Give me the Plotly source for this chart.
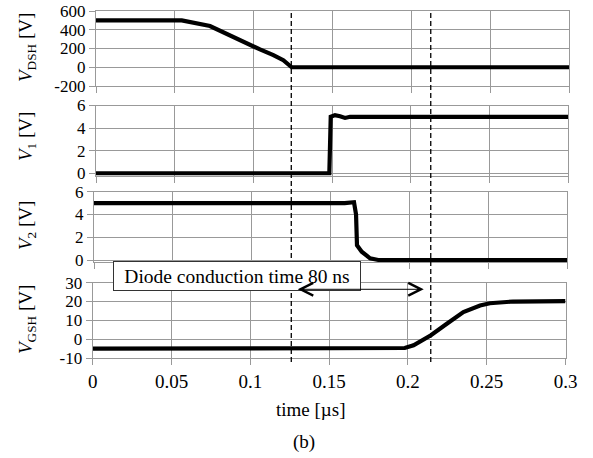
import plotly.graph_objects as go

# ---------------- data ----------------
t_vdsh = [0, 0.0544, 0.0723, 0.0786, 0.0871, 0.0956, 0.104, 0.1125, 0.1188, 0.1241, 0.3]
v_dsh = [500, 500, 440, 390, 318, 262, 190, 129, 75, 0, 0]

t_v1 = [0, 0.1483, 0.1492, 0.1519, 0.1551, 0.1583, 0.1615, 0.3]
v_1 = [0, 0, 5.0, 5.15, 5.05, 4.9, 5.0, 5.0]

t_v2 = [0, 0.156, 0.1571, 0.159, 0.1649, 0.1662, 0.1668, 0.1698, 0.1751, 0.1803, 0.3]
v_2 = [5.0, 5.0, 4.93, 5.0, 5.08, 4.0, 1.3, 0.73, 0.15, 0.0, 0.0]

t_vgsh = [0, 0.198, 0.2036, 0.2146, 0.2247, 0.2352, 0.2458, 0.252, 0.2667, 0.3]
v_gsh = [-5, -4.7, -3.2, 2.1, 8.2, 14.4, 17.9, 19.1, 20.0, 20.2]

t_diode_start = 0.126
t_diode_end = 0.2145
arrow_level = 26.5

x_ticks = [0, 0.05, 0.1, 0.15, 0.2, 0.25, 0.3]
x_ticktext = ["0", "0.05", "0.1", "0.15", "0.2", "0.25", "0.3"]
y1_ticks = [-200, 0, 200, 400, 600]
y1_ticktext = ["-200", "0", "200", "400", "600"]
y2_ticks = [0, 2, 4, 6]
y2_ticktext = ["0", "2", "4", "6"]
y4_ticks = [-10, 0, 10, 20, 30]
y4_ticktext = ["-10", "0", "10", "20", "30"]

titles = ["<i>V</i><sub>DSH</sub> [V]", "<i>V</i><sub>1</sub> [V]",
          "<i>V</i><sub>2</sub> [V]", "<i>V</i><sub>GSH</sub> [V]"]
box_text = "Diode conduction time 80 ns"
x_title = "time [µs]"
caption = "(b)"

# ---------------- layout helpers ----------------
W, H = 593, 458
FONT = "Liberation Serif, Times New Roman, Tinos, serif"
GRID = "#999999"

def px(x):
    return x / W

def py(y):
    return 1 - y / H

fig = go.Figure()
series = [(t_vdsh, v_dsh), (t_v1, v_1), (t_v2, v_2), (t_vgsh, v_gsh)]
for i, (tx, vy) in enumerate(series, start=1):
    fig.add_trace(go.Scatter(x=tx, y=vy, mode="lines",
                             line=dict(color="black", width=4.2),
                             xaxis=f"x{i}", yaxis=f"y{i}", showlegend=False))

# panel pixel boxes (left, right, top, bottom)
panels = [
    (96, 569, 11, 86, [-200, 600], y1_ticks, y1_ticktext),
    (96, 568, 105.5, 175.6, [-0.2, 6], y2_ticks, y2_ticktext),
    (94, 567, 191.7, 262.3, [-0.2, 6], y2_ticks, y2_ticktext),
    (92.7, 565.5, 282.7, 358, [-10, 30], y4_ticks, y4_ticktext),
]

x_font = dict(family=FONT, size=19, color="black")
y_font = dict(family=FONT, size=17, color="black")
for i, (l, r, t, b, yr, yt, ytt) in enumerate(panels, start=1):
    xa = dict(domain=[px(l), px(r)], range=[0, 0.3], tickvals=x_ticks, ticktext=x_ticktext,
              showgrid=True, gridcolor=GRID, gridwidth=1.2, showline=True, linecolor=GRID,
              linewidth=1.2, mirror=True, ticks="outside", ticklen=6, tickcolor=GRID,
              tickwidth=1.2, tickfont=x_font, showticklabels=(i == 4), zeroline=False,
              anchor=f"y{i}", fixedrange=True, automargin=False)
    ya = dict(domain=[py(b), py(t)], range=yr, tickvals=yt, ticktext=ytt,
              showgrid=True, gridcolor=GRID, gridwidth=1.2, showline=True, linecolor=GRID,
              linewidth=1.2, mirror=True, ticks="outside", ticklen=6, tickcolor=GRID,
              tickwidth=1.2, tickfont=y_font, zeroline=False, anchor=f"x{i}",
              fixedrange=True, automargin=False)
    fig.update_layout(**{f"xaxis{i}": xa, f"yaxis{i}": ya})

# y titles
title_centers = [48, 137, 226, 320]
annotations = []
for txt, yc in zip(titles, title_centers):
    annotations.append(dict(text=txt, x=px(27), y=py(yc), xref="paper", yref="paper",
                            textangle=-90, showarrow=False, xanchor="center", yanchor="middle",
                            font=dict(family=FONT, size=19, color="black")))

annotations.append(dict(text=x_title, x=px(311), y=py(409), xref="paper", yref="paper",
                        showarrow=False, xanchor="center", yanchor="middle",
                        font=dict(family=FONT, size=19, color="black")))
annotations.append(dict(text=caption, x=px(304), y=py(442), xref="paper", yref="paper",
                        showarrow=False, xanchor="center", yanchor="middle",
                        font=dict(family=FONT, size=19, color="black")))

# diode conduction box
annotations.append(dict(text=box_text, x=px(236.7), y=py(276), xref="paper", yref="paper",
                        showarrow=False, xanchor="center", yanchor="middle",
                        bgcolor="white", bordercolor="#333333", borderwidth=1, borderpad=3,
                        width=240, height=22,
                        font=dict(family=FONT, size=19.5, color="black")))

# double arrow
annotations.append(dict(text="", x=t_diode_end, y=arrow_level, ax=t_diode_start, ay=arrow_level,
                        xref="x4", yref="y4", axref="x4", ayref="y4",
                        showarrow=True, arrowside="end+start", arrowhead=5, startarrowhead=5,
                        arrowsize=2.5, startarrowsize=2.5, arrowwidth=1, arrowcolor="black",
                        standoff=7, startstandoff=5))

shapes = []
for tv in (t_diode_start, t_diode_end):
    shapes.append(dict(type="line", xref="x4", yref="paper", x0=tv, x1=tv,
                       y0=py(362), y1=py(10),
                       line=dict(color="black", width=1.3, dash="5px,3px")))

fig.update_layout(width=W, height=H, margin=dict(l=0, r=0, t=0, b=0, autoexpand=False),
                  paper_bgcolor="white", plot_bgcolor="white",
                  annotations=annotations, shapes=shapes,
                  font=dict(family=FONT, color="black"))

fig.write_html("out.html")
